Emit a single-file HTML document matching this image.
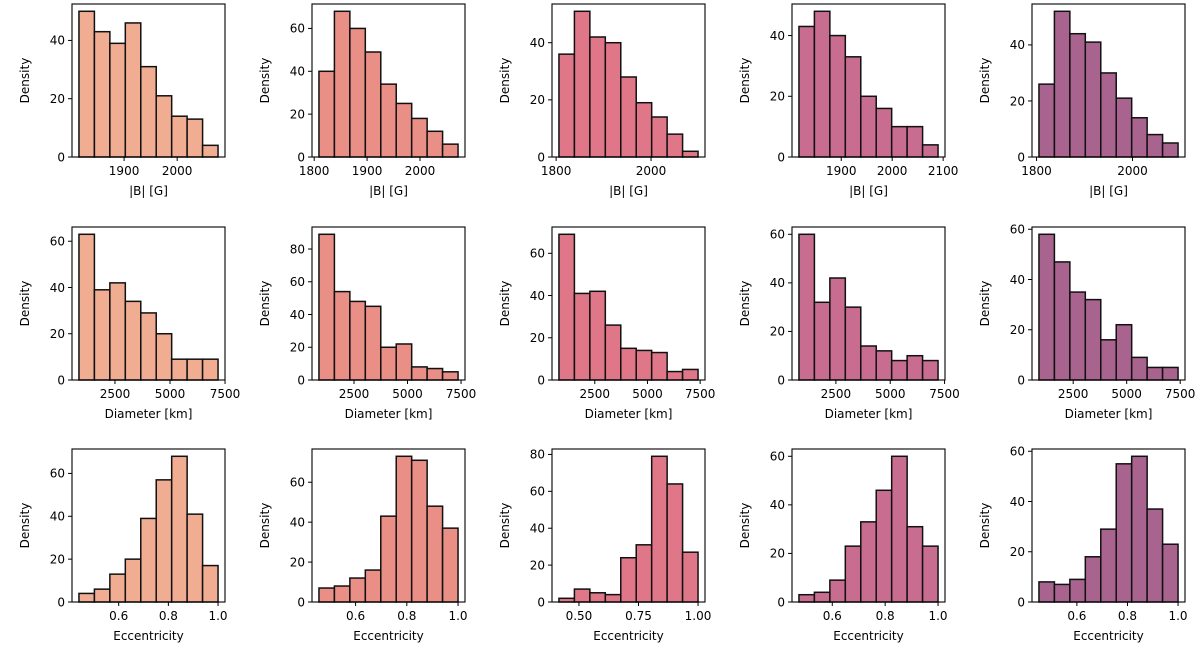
<!DOCTYPE html>
<html><head><meta charset="utf-8">
<style>
html,body{margin:0;padding:0;background:#fff;}
svg{display:block;font-family:"DejaVu Sans","Liberation Sans",sans-serif;}
</style></head>
<body>
<svg id="chart" width="1200" height="662" viewBox="0 0 1200 662"></svg>
<script>
// Row 1: |B| [G]
const bMin = [1815, 1809, 1806, 1817, 1805];
const bMax = [2077, 2072, 2099, 2090, 2095];
const bCounts = [
  [50,43,39,46,31,21,14,13,4],
  [40,68,60,49,34,25,18,12,6],
  [36,51,42,40,28,19,14,8,2],
  [43,48,40,33,20,16,10,10,4],
  [26,52,44,41,30,21,14,8,5]
];
const bXTicks = [[1900,2000],[1800,1900,2000],[1800,2000],[1900,2000,2100],[1800,2000]];
const bYTicks = [[0,20,40],[0,20,40,60],[0,20,40],[0,20,40],[0,20,40]];
// Row 2: Diameter [km]
const dMin = [864, 864, 800, 800, 900];
const dMax = [7182, 7360, 7400, 7200, 7400];
const dCounts = [
  [63,39,42,34,29,20,9,9,9],
  [89,54,48,45,20,22,8,7,5],
  [69,41,42,26,15,14,13,4,5],
  [60,32,42,30,14,12,8,10,8],
  [58,47,35,32,16,22,9,5,5]
];
const dXTicks = [[2500,5000,7500],[2500,5000,7500],[2500,5000,7500],[2500,5000,7500],[2500,5000,7500]];
const dYTicks = [[0,20,40,60],[0,20,40,60,80],[0,20,40,60],[0,20,40,60],[0,20,40,60]];
// Row 3: Eccentricity
const eMin = [0.44, 0.457, 0.416, 0.474, 0.45];
const eMax = [1.0, 1.0, 1.0, 1.0, 1.0];
const eCounts = [
  [4,6,13,20,39,57,68,41,17],
  [7,8,12,16,43,73,71,48,37],
  [2,7,5,4,24,31,79,64,27],
  [3,4,9,23,33,46,60,31,23],
  [8,7,9,18,29,55,58,37,23]
];
const eXTicks = [[0.6,0.8,1.0],[0.6,0.8,1.0],[0.5,0.75,1.0],[0.6,0.8,1.0],[0.6,0.8,1.0]];
const eXTickLabels = [["0.6","0.8","1.0"],["0.6","0.8","1.0"],["0.50","0.75","1.00"],["0.6","0.8","1.0"],["0.6","0.8","1.0"]];
const eYTicks = [[0,20,40,60],[0,20,40,60],[0,20,40,60,80],[0,20,40,60],[0,20,40,60]];
const rowLabels = ["|B| [G]", "Diameter [km]", "Eccentricity"];
const colors = ["#f0ad92","#e98f86","#e07789","#c96d90","#a8638f"];

const NS = "http://www.w3.org/2000/svg";
const svg = document.getElementById("chart");
function mk(tag, attrs, parent){
  const e = document.createElementNS(NS, tag);
  for (const k in attrs) e.setAttribute(k, attrs[k]);
  (parent||svg).appendChild(e);
  return e;
}
const rowTops = [4, 227, 449];
const AW = 153, AH = 153;
const FS = "12";

const rows = [
  {mins:bMin, maxs:bMax, counts:bCounts, xt:bXTicks, xtl:bXTicks.map(a=>a.map(String)), yt:bYTicks, key:"bfield"},
  {mins:dMin, maxs:dMax, counts:dCounts, xt:dXTicks, xtl:dXTicks.map(a=>a.map(String)), yt:dYTicks, key:"diameter"},
  {mins:eMin, maxs:eMax, counts:eCounts, xt:eXTicks, xtl:eXTickLabels, yt:eYTicks, key:"eccentricity"}
];

rows.forEach((row, r) => {
  for (let c = 0; c < 5; c++) {
    const left = 72 + 240*c, top = rowTops[r];
    const g = mk("g", {});
    
    
    const lo = row.mins[c], hi = row.maxs[c], R = hi - lo;
    const x0 = lo - 0.05*R, x1 = hi + 0.05*R;
    const counts = row.counts[c];
    const ymax = Math.max(...counts) * 1.05;
    const xs = v => left + (v - x0) / (x1 - x0) * AW;
    const ys = v => top + AH - v / ymax * AH;
    const n = counts.length, bw = R / n;
    counts.forEach((v, i) => {
      const a = xs(lo + i*bw), b = xs(lo + (i+1)*bw);
      const rect = mk("rect", {x:a, y:ys(v), width:b-a, height:ys(0)-ys(v), fill:colors[c], stroke:"#111", "stroke-width":1.5}, g);
      
      
    });
    const frame = mk("rect", {x:left, y:top, width:AW, height:AH, fill:"none", stroke:"#000", "stroke-width":1.1}, g);
    
    
    row.xt[c].forEach((t, i) => {
      const x = xs(t);
      mk("line", {x1:x, x2:x, y1:top+AH, y2:top+AH+4, stroke:"#000", "stroke-width":1}, g);
      const tx = mk("text", {x:x, y:top+AH+18, "text-anchor":"middle", "font-size":FS, fill:"#000"}, g);
      tx.textContent = row.xtl[c][i];
      
      
    });
    row.yt[c].forEach(t => {
      const y = ys(t);
      mk("line", {x1:left-4, x2:left, y1:y, y2:y, stroke:"#000", "stroke-width":1}, g);
      const ty = mk("text", {x:left-7, y:y+4.3, "text-anchor":"end", "font-size":FS, fill:"#000"}, g);
      ty.textContent = String(t);
      
      
    });
    const xl = mk("text", {x:left+AW/2, y:top+AH+38, "text-anchor":"middle", "font-size":FS, fill:"#000"}, g);
    xl.textContent = rowLabels[r];
    
    
    const yl = mk("text", {x:0, y:0, "text-anchor":"middle", "font-size":FS, fill:"#000", transform:"translate(" + (left-43) + "," + (top+AH/2) + ") rotate(-90)"}, g);
    yl.textContent = "Density";
    
    
  }
});
</script>
</body></html>
